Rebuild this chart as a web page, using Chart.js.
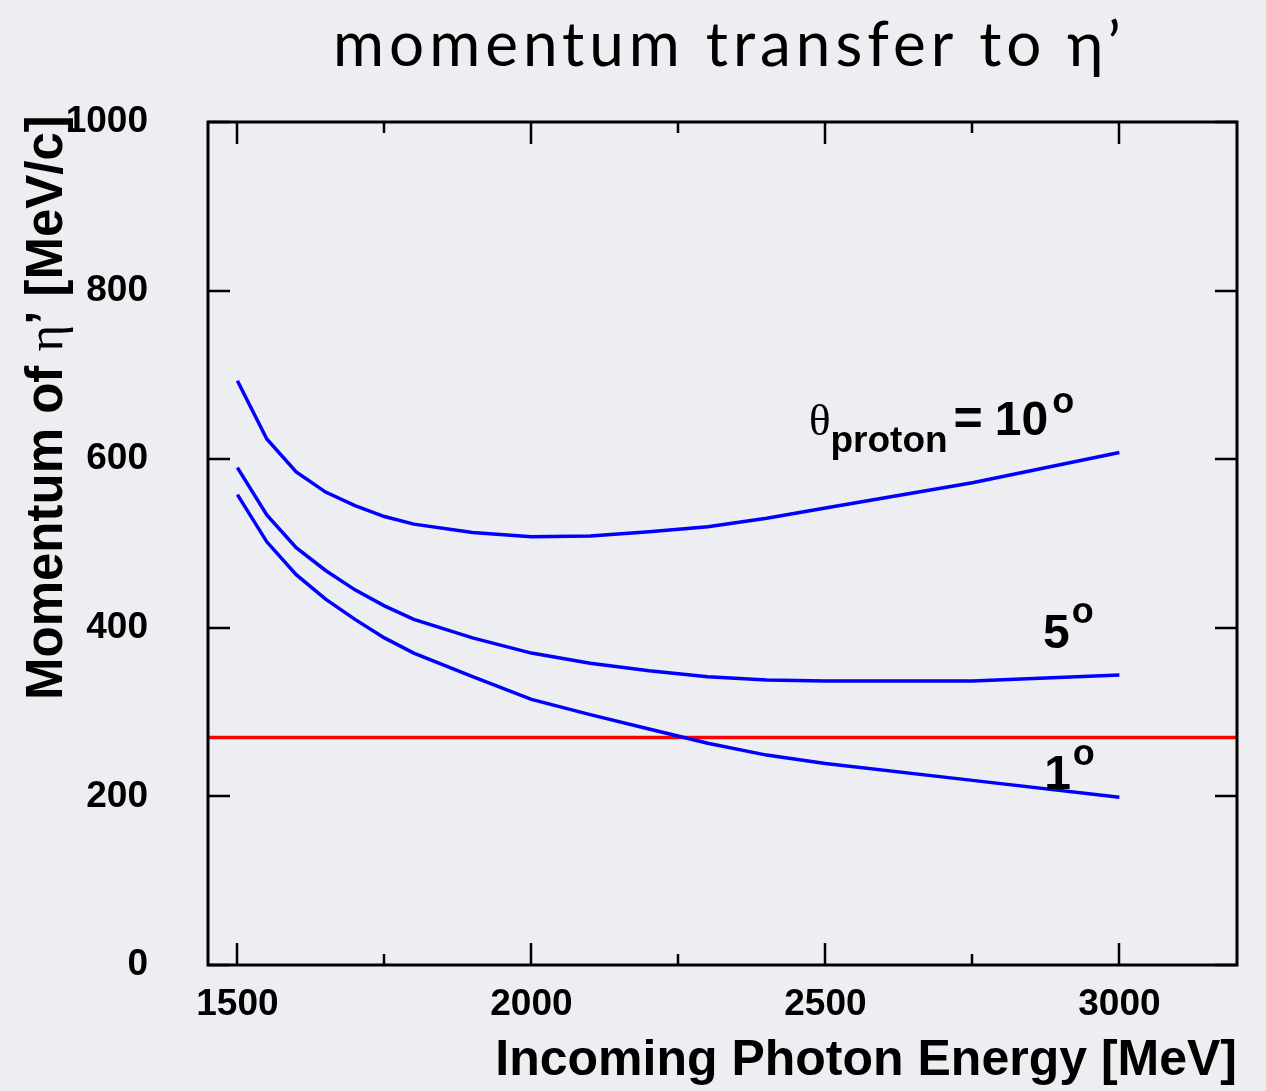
<!DOCTYPE html>
<html>
<head>
<meta charset="utf-8">
<title>momentum transfer to η’</title>
<script src="https://cdn.jsdelivr.net/npm/chart.js@4.4.0/dist/chart.umd.min.js"></script>
<style>
  html, body { margin: 0; padding: 0; background: #eceef1; }
  #wrap { width: 1266px; height: 1091px; }
</style>
</head>
<body>
<div id="wrap"><canvas id="momChart" width="1266" height="1091"></canvas></div>
<script>
// photon energy grid [MeV] and eta' momentum [MeV/c] per proton angle
const energies = [1500, 1550, 1600, 1650, 1700, 1750, 1800, 1900, 2000, 2100, 2200, 2300, 2400, 2500, 2750, 3000];
const mom10deg = [693, 624, 585, 561, 545, 532, 523, 513, 508, 509, 514, 520, 530, 542, 572, 608];
const mom5deg  = [590, 534, 495, 468, 445, 426, 410, 388, 370, 358, 349, 342, 338, 337, 337, 344];
const mom1deg  = [558, 502, 463, 434, 410, 388, 370, 342, 315, 297, 280, 263, 249, 239, 219, 199];

// horizontal reference line
const refEnergies = [1450, 3200];
const refMomentum = [270, 270];

const xTicks = [1500, 1750, 2000, 2250, 2500, 2750, 3000];
const yTicks = [0, 200, 400, 600, 800, 1000];

const BG = '#eceef1';
const SANS = '"Liberation Sans", Arial, sans-serif';
const bold = s => 'bold ' + s + 'px ' + SANS;
const serif = s => s + 'px "Liberation Serif", "DejaVu Serif", serif';

const toPoints = (xs, ys) => xs.map((x, i) => ({ x: x, y: ys[i] }));

// write a sequence of text runs left to right
function drawRuns(ctx, x, y, runs) {
  let cx = x;
  runs.forEach(r => {
    ctx.font = r.font;
    ctx.fillText(r.text, cx, y + (r.dy || 0));
    cx += ctx.measureText(r.text).width + (r.gap || 0);
  });
}

// curve labels, anchored in data coordinates
const curveLabels = [
  { e: 2472, p: 629, runs: [
      { text: 'θ', font: serif(45) },
      { text: 'proton', font: bold(37), dy: 17, gap: 6 },
      { text: '=', font: bold(50), gap: 12 },
      { text: '10', font: bold(48), gap: 4 },
      { text: 'o', font: bold(36), dy: -22 } ] },
  { e: 2870, p: 376, runs: [
      { text: '5', font: bold(48), gap: 2 },
      { text: 'o', font: bold(36), dy: -25 } ] },
  { e: 2872, p: 209, runs: [
      { text: '1', font: bold(48), gap: 2 },
      { text: 'o', font: bold(36), dy: -24 } ] }
];

const framePlugin = {
  id: 'framePlugin',
  beforeDraw(chart) {
    const ctx = chart.ctx;
    ctx.save();
    ctx.fillStyle = BG;
    ctx.fillRect(0, 0, chart.width, chart.height);
    ctx.restore();
  },
  afterDraw(chart) {
    const { ctx, chartArea: a, scales: { x, y } } = chart;
    ctx.save();
    ctx.strokeStyle = '#000';
    ctx.lineCap = 'butt';

    // inward ticks on all four sides
    ctx.lineWidth = 2.5;
    ctx.beginPath();
    xTicks.forEach(v => {
      const px = Math.round(x.getPixelForValue(v));
      const len = v % 500 === 0 ? 22 : 11;
      ctx.moveTo(px, a.bottom); ctx.lineTo(px, a.bottom - len);
      ctx.moveTo(px, a.top); ctx.lineTo(px, a.top + len);
    });
    yTicks.forEach(v => {
      const py = Math.round(y.getPixelForValue(v));
      ctx.moveTo(a.left, py); ctx.lineTo(a.left + 22, py);
      ctx.moveTo(a.right, py); ctx.lineTo(a.right - 22, py);
    });
    ctx.stroke();

    ctx.lineWidth = 3;
    ctx.strokeRect(a.left, a.top, a.right - a.left, a.bottom - a.top);

    ctx.fillStyle = '#000';
    ctx.textBaseline = 'alphabetic';
    ctx.textAlign = 'left';

    // page title
    ctx.font = '62px Lato, "Open Sans", sans-serif';
    ctx.letterSpacing = '5px';
    ctx.fillText('momentum transfer to η’', 333, 66);
    ctx.letterSpacing = '0px';

    // y axis title, mixed fonts, reading bottom to top
    ctx.save();
    ctx.translate(62, 700);
    ctx.rotate(-Math.PI / 2);
    drawRuns(ctx, 0, 0, [
      { text: 'Momentum of ', font: bold(51) },
      { text: 'η', font: serif(51) },
      { text: '’ [MeV/c]', font: bold(51) }
    ]);
    ctx.restore();

    curveLabels.forEach(l => {
      drawRuns(ctx, x.getPixelForValue(l.e), y.getPixelForValue(l.p), l.runs);
    });
    ctx.restore();
  }
};

new Chart(document.getElementById('momChart'), {
  type: 'line',
  data: {
    datasets: [
      { label: '10°', data: toPoints(energies, mom10deg), borderColor: '#0000ff' },
      { label: '5°', data: toPoints(energies, mom5deg), borderColor: '#0000ff' },
      { label: '1°', data: toPoints(energies, mom1deg), borderColor: '#0000ff' },
      { label: 'ref', data: toPoints(refEnergies, refMomentum), borderColor: '#ff0000' }
    ]
  },
  options: {
    responsive: false,
    animation: false,
    events: [],
    elements: {
      line: { borderWidth: 3.5, tension: 0, fill: false },
      point: { radius: 0 }
    },
    layout: { padding: { top: 122, right: 29, left: 0, bottom: 0 } },
    plugins: {
      legend: { display: false },
      tooltip: { enabled: false }
    },
    scales: {
      x: {
        type: 'linear',
        min: 1450,
        max: 3200,
        grid: { display: false, drawTicks: false },
        border: { display: false },
        afterBuildTicks: s => { s.ticks = xTicks.map(v => ({ value: v })); },
        afterFit: s => { s.height = 126; },
        ticks: {
          autoSkip: false,
          maxRotation: 0,
          padding: 18,
          color: '#000',
          font: { family: SANS, size: 37, weight: 'bold' },
          callback: v => (v % 500 === 0 ? String(v) : '')
        },
        title: {
          display: true,
          align: 'end',
          text: 'Incoming Photon Energy [MeV]',
          color: '#000',
          font: { family: SANS, size: 50, weight: 'bold' },
          padding: { top: 0, bottom: 0 }
        }
      },
      y: {
        type: 'linear',
        min: 0,
        max: 1000,
        grid: { display: false, drawTicks: false },
        border: { display: false },
        afterBuildTicks: s => { s.ticks = yTicks.map(v => ({ value: v })); },
        afterFit: s => { s.width = 208; },
        ticks: {
          padding: 60,
          color: '#000',
          font: { family: SANS, size: 37, weight: 'bold' },
          callback: v => String(v)
        }
      }
    }
  },
  plugins: [framePlugin]
});
</script>
</body>
</html>
